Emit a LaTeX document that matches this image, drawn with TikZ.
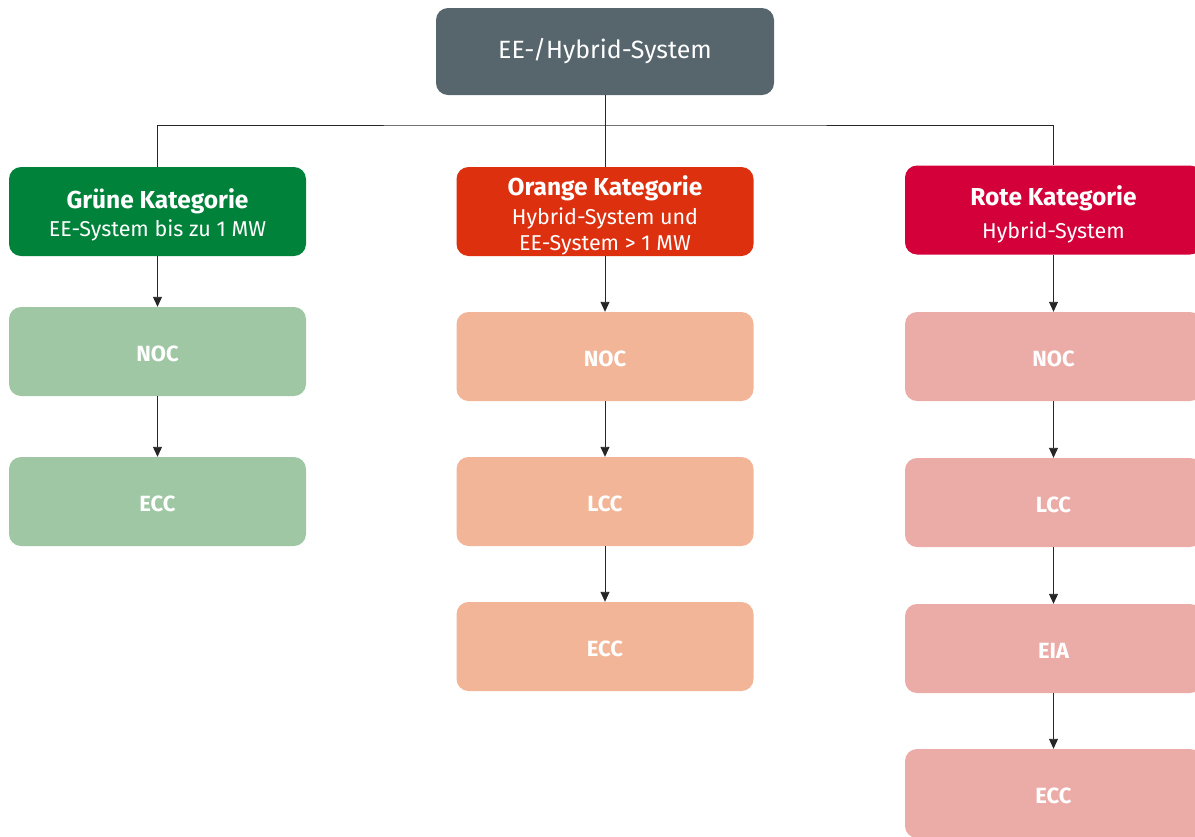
\documentclass[tikz,border=0pt]{standalone}
\usepackage{fontspec}
\setmainfont{Fira Sans}
\usetikzlibrary{arrows.meta}

\definecolor{grau}{HTML}{57656C}
\definecolor{gruen}{HTML}{00823A}
\definecolor{orange}{HTML}{DD300F}
\definecolor{rot}{HTML}{D3003A}
\definecolor{gruenhell}{HTML}{9FC7A4}
\definecolor{orangehell}{HTML}{F2B597}
\definecolor{rothell}{HTML}{EBACA8}

\begin{document}
\begin{tikzpicture}[x=1pt,y=-1pt,
  box/.style={rounded corners=12pt, minimum width=297pt, minimum height=89pt,
    inner sep=0pt, text=white, align=center},
  kopf/.style={box, font=\fontsize{21.5}{26}\selectfont, text depth=0pt},
  stufe/.style={box, font=\fontsize{22}{26}\selectfont\bfseries,
    text height=20pt, text depth=0pt},
  link/.style={draw=black!85, line width=0.9pt},
  flow/.style={link, -{Triangle[length=10pt,width=9pt]}}]
\useasboundingbox (0,0) rectangle (1195,836);

\node[box, fill=grau, minimum width=338pt, minimum height=87pt,
  font=\fontsize{25}{30}\selectfont] (root) at (605,51.5) {EE-/Hybrid-System};

\node[kopf, fill=gruen, text height=50pt] (gruen) at (157.5,211.5)
  {{\bfseries\fontsize{24.5}{29}\selectfont Grüne Kategorie}\\[2pt]EE-System bis zu 1 MW};
\node[kopf, fill=orange, text height=78pt] (orange) at (605,211.5)
  {{\bfseries\fontsize{24.5}{29}\selectfont Orange Kategorie}\\[3pt]Hybrid-System und\\EE-System > 1 MW};
\node[kopf, fill=rot, text height=57pt] (rot) at (1053.5,210)
  {{\bfseries\fontsize{24.5}{33}\selectfont Rote Kategorie}\\[7pt]Hybrid-System};

% gruene Kategorie
\node[stufe, fill=gruenhell] (gnoc) at (157.5,351.5) {NOC};
\node[stufe, fill=gruenhell] (gecc) at (157.5,501.5) {ECC};

% orange Kategorie
\node[stufe, fill=orangehell] (onoc) at (605,356.5) {NOC};
\node[stufe, fill=orangehell] (olcc) at (605,501.5) {LCC};
\node[stufe, fill=orangehell] (oecc) at (605,646.5) {ECC};

% rote Kategorie
\node[stufe, fill=rothell] (rnoc) at (1053.5,356.5) {NOC};
\node[stufe, fill=rothell] (rlcc) at (1053.5,502.5) {LCC};
\node[stufe, fill=rothell] (reia) at (1053.5,648.5) {EIA};
\node[stufe, fill=rothell] (recc) at (1053.5,793.5) {ECC};

\coordinate (bus) at (605,125);
\draw[link] (root) -- (orange);
\draw[link] (gruen.north) |- (bus) -| (rot.north);

\foreach \a/\b in {gruen/gnoc, gnoc/gecc, orange/onoc, onoc/olcc, olcc/oecc,
                   rot/rnoc, rnoc/rlcc, rlcc/reia, reia/recc}
  \draw[flow] (\a) -- (\b);
\end{tikzpicture}
\end{document}
